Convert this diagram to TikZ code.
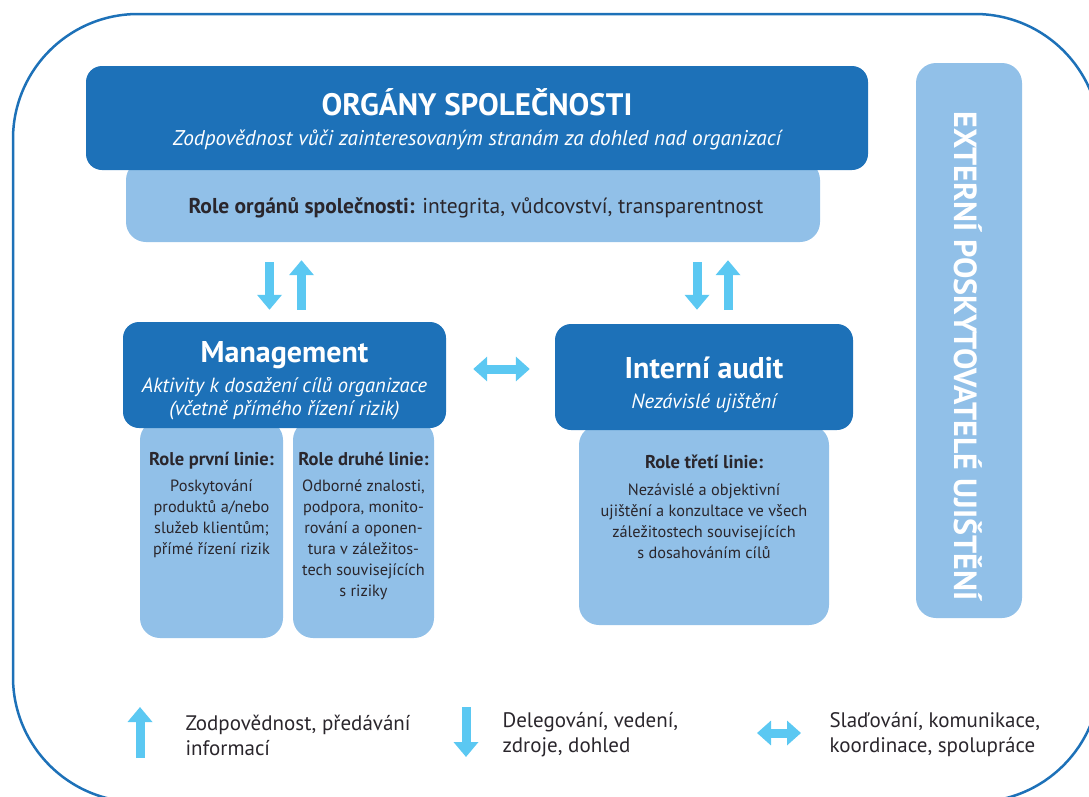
\documentclass[tikz,border=0pt]{standalone}
\usepackage{fontspec}
\setmainfont{PT Sans}
\usetikzlibrary{arrows.meta,positioning}

\definecolor{orgblue}{RGB}{29,113,184}
\definecolor{rolefill}{RGB}{145,192,232}
\definecolor{arrowcyan}{RGB}{91,200,242}
\definecolor{txtdark}{RGB}{42,38,44}

\newcommand{\rolehead}[1]{{\fontsize{18.5}{21}\selectfont\bfseries #1}}

\begin{document}
\begin{tikzpicture}[x=1pt, y=-1pt,
    darkbox/.style={fill=orgblue, rounded corners=16pt},
    lightbox/.style={fill=rolefill, rounded corners=20pt},
    headtxt/.style={text=white, anchor=base, font=\fontsize{30}{34}\selectfont\bfseries},
    subtxt/.style={text=white, align=center, font=\fontsize{20.5}{23}\selectfont\itshape},
    roletxt/.style={text=txtdark, align=center, anchor=north, font=\fontsize{16.3}{21}\selectfont},
    legtxt/.style={text=txtdark, align=left, anchor=west, font=\fontsize{21}{25}\selectfont},
    arr/.style={draw=arrowcyan, line width=9pt, -{Triangle[width=24pt,length=15pt]}},
    dblarr/.style={draw=arrowcyan, line width=9pt, {Triangle[width=24pt,length=14pt]}-{Triangle[width=24pt,length=14pt]}}
  ]
  \useasboundingbox (0,0) rectangle (1089,796);
  \clip (0,0) rectangle (1089,796);

  % Outer frame
  \draw[orgblue, line width=2.5pt, rounded corners=125pt] (13,14) rectangle (1100,802);

  % Role boxes (drawn first, the blue headers overlap them)
  \node[lightbox, minimum width=694pt, minimum height=82pt] (rolebox) at (473,201) {};
  \node[lightbox, minimum width=143pt, minimum height=218pt] (prvni) at (211.5,529) {};
  \node[lightbox, minimum width=141pt, minimum height=218pt] (druha) at (363.5,529) {};
  \node[lightbox, minimum width=250pt, minimum height=200pt] (treti) at (704,525) {};

  % Headers
  \node[darkbox, minimum width=782pt, minimum height=104pt] (organy) at (477,118) {};
  \node[headtxt, font=\fontsize{31}{34}\selectfont\bfseries] (organytitle) at (477,115) {ORGÁNY SPOLEČNOSTI};
  \node[subtxt, anchor=base, font=\fontsize{21.3}{24}\selectfont\itshape] (organysub) at (477,145)
    {Zodpovědnost vůči zainteresovaným stranám za dohled nad organizací};

  \node[darkbox, minimum width=323pt, minimum height=106pt] (management) at (284.5,375) {};
  \node[headtxt] (mgmttitle) at (284.5,362) {Management};
  \node[subtxt, anchor=north] (mgmtsub) at (284.5,374)
    {Aktivity k dosažení cílů organizace\\(včetně přímého řízení rizik)};

  \node[darkbox, minimum width=298pt, minimum height=106pt] (audit) at (704,377) {};
  \node[headtxt] (audittitle) at (704,378) {Interní audit};
  \node[subtxt, anchor=base] (auditsub) at (704,408) {Nezávislé ujištění};

  % External assurance
  \node[lightbox, minimum width=106pt, minimum height=555pt] (externi) at (969,340.5) {};
  \node[rotate=-90, text=white, font=\fontsize{32}{36}\selectfont\bfseries] (externitxt) at (968,356)
    {EXTERNÍ POSKYTOVATELÉ UJIŠTĚNÍ};

  % Role texts
  \node[text=txtdark, anchor=base, font=\fontsize{21.5}{24}\selectfont] (roletxt) at (476,213)
    {\textbf{Role orgánů společnosti:} integrita, vůdcovství, transparentnost};
  \node[roletxt] (prvnitxt) at (211.5,449)
    {\rolehead{Role první linie:}\\[5pt]Poskytování\\produktů a/nebo\\služeb klientům;\\přímé řízení rizik};
  \node[roletxt] (druhatxt) at (363.5,449)
    {\rolehead{Role druhé linie:}\\[5pt]Odborné znalosti,\\podpora, monito-\\rování a oponen-\\tura v záležitos-\\tech souvisejících\\s riziky};
  \node[roletxt] (tretitxt) at (704,451)
    {\rolehead{Role třetí linie:}\\[6pt]Nezávislé a objektivní\\ujištění a konzultace ve všech\\záležitostech souvisejících\\s dosahováním cílů};

  % Arrows between levels
  \draw[arr, shorten <=20pt, shorten >=12pt] ([xshift=-15pt]management.north |- rolebox.south) -- ([xshift=-15pt]management.north);
  \draw[arr, shorten <=12pt, shorten >=18pt] ([xshift=17pt]management.north) -- ([xshift=17pt]management.north |- rolebox.south);
  \draw[arr, shorten <=20pt, shorten >=14pt] ([xshift=-7pt]audit.north |- rolebox.south) -- ([xshift=-7pt]audit.north);
  \draw[arr, shorten <=14pt, shorten >=18pt] ([xshift=24pt]audit.north) -- ([xshift=24pt]audit.north |- rolebox.south);
  \draw[dblarr, shorten <=27pt, shorten >=25pt] ([yshift=6pt]management.east) -- ([yshift=6pt]management.east -| audit.west);

  % Legend
  \coordinate (upA) at (140,758);
  \coordinate (upB) at (140,707);
  \coordinate (downA) at (466,707);
  \coordinate (downB) at (466,757);
  \coordinate (twoA) at (757,733);
  \coordinate (twoB) at (801,733);
  \draw[arr] (upA) -- (upB);
  \draw[arr] (downA) -- (downB);
  \draw[dblarr] (twoA) -- (twoB);
  \node[legtxt] (legup) at (182,735) {Zodpovědnost, předávání\\informací};
  \node[legtxt] (legdown) at (499,735) {Delegování, vedení,\\zdroje, dohled};
  \node[legtxt] (legtwo) at (826,735) {Slaďování, komunikace,\\koordinace, spolupráce};
\end{tikzpicture}
\end{document}
